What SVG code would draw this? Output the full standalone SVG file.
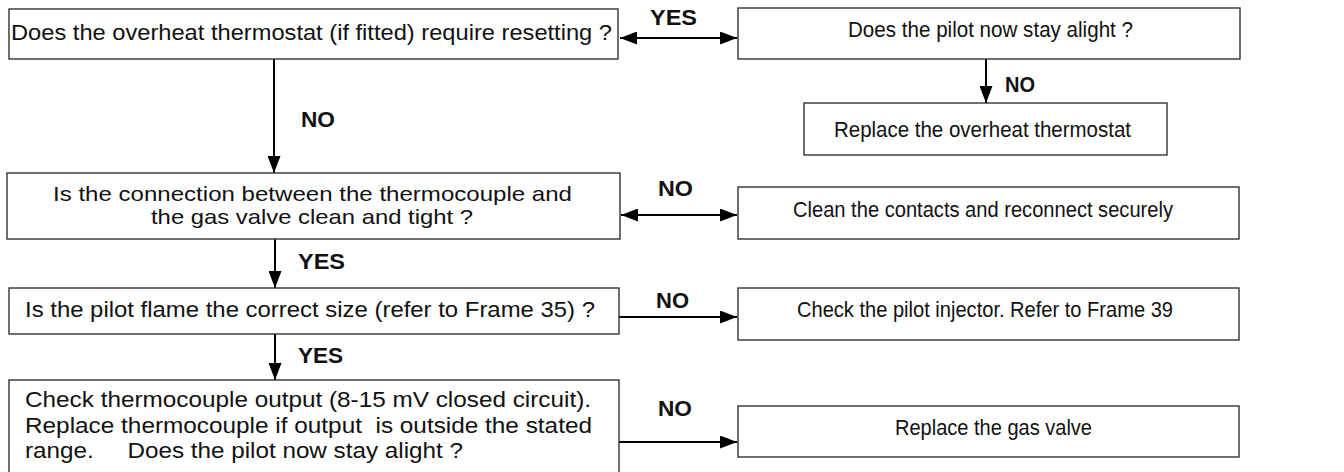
<svg xmlns="http://www.w3.org/2000/svg" width="1344" height="472" viewBox="0 0 1344 472">
<defs>
<style>
.box{fill:#fff;stroke:#333;stroke-width:1.4}
.t{font-family:"Liberation Sans",Arial,sans-serif;font-size:22px;fill:#111;white-space:pre}
.s{font-size:21px}
.l{font-family:"Liberation Sans",Arial,sans-serif;font-size:22px;font-weight:bold;fill:#111}
.c{stroke:#000;stroke-width:2;fill:none}
</style>
<marker id="ah" markerUnits="userSpaceOnUse" markerWidth="17" markerHeight="13" refX="17" refY="6.5" orient="auto-start-reverse">
<path d="M0,0 L17,6.5 L0,13 z" fill="#000"/>
</marker>
</defs>
<rect width="1344" height="472" fill="#fff"/>
<g id="connectors">
<line class="c" x1="620" y1="38" x2="737" y2="38" marker-start="url(#ah)" marker-end="url(#ah)"/>
<text class="l" x="650" y="25" textLength="47" lengthAdjust="spacingAndGlyphs">YES</text>
<line class="c" x1="986" y1="59" x2="986" y2="103" marker-end="url(#ah)"/>
<text class="l" x="1005" y="92" textLength="30" lengthAdjust="spacingAndGlyphs">NO</text>
<line class="c" x1="274" y1="59" x2="274" y2="173" marker-end="url(#ah)"/>
<text class="l" x="301" y="127" textLength="34" lengthAdjust="spacingAndGlyphs">NO</text>
<line class="c" x1="621" y1="215" x2="737" y2="215" marker-start="url(#ah)" marker-end="url(#ah)"/>
<text class="l" x="658" y="196" textLength="35" lengthAdjust="spacingAndGlyphs">NO</text>
<line class="c" x1="275" y1="239" x2="275" y2="288" marker-end="url(#ah)"/>
<text class="l" x="298" y="269" textLength="47" lengthAdjust="spacingAndGlyphs">YES</text>
<line class="c" x1="619" y1="317" x2="737" y2="317" marker-end="url(#ah)"/>
<text class="l" x="656" y="308" textLength="33" lengthAdjust="spacingAndGlyphs">NO</text>
<line class="c" x1="275" y1="334" x2="275" y2="380" marker-end="url(#ah)"/>
<text class="l" x="298" y="363" textLength="45" lengthAdjust="spacingAndGlyphs">YES</text>
<line class="c" x1="619" y1="442" x2="737" y2="442" marker-end="url(#ah)"/>
<text class="l" x="658" y="416" textLength="34" lengthAdjust="spacingAndGlyphs">NO</text>
</g>
<g id="n1">
<rect class="box" x="9" y="9" width="609" height="50"/>
<text class="t" x="11" y="40" textLength="601" lengthAdjust="spacingAndGlyphs">Does the overheat thermostat (if fitted) require resetting ?</text>
</g>
<g id="n2">
<rect class="box" x="738" y="8" width="502" height="51"/>
<text class="t" x="848" y="37" textLength="285" lengthAdjust="spacingAndGlyphs">Does the pilot now stay alight ?</text>
</g>
<g id="n3">
<rect class="box" x="804" y="103" width="363" height="52"/>
<text class="t" x="834" y="137" textLength="297" lengthAdjust="spacingAndGlyphs">Replace the overheat thermostat</text>
</g>
<g id="n4">
<rect class="box" x="7" y="173" width="613" height="66"/>
<text class="t s" x="53" y="201" textLength="519" lengthAdjust="spacingAndGlyphs">Is the connection between the thermocouple and</text>
<text class="t s" x="151" y="224" textLength="322" lengthAdjust="spacingAndGlyphs">the gas valve clean and tight ?</text>
</g>
<g id="n5">
<rect class="box" x="738" y="187" width="501" height="52"/>
<text class="t" x="793" y="217" textLength="380" lengthAdjust="spacingAndGlyphs">Clean the contacts and reconnect securely</text>
</g>
<g id="n6">
<rect class="box" x="9" y="288" width="610" height="46"/>
<text class="t" x="25" y="317" textLength="570" lengthAdjust="spacingAndGlyphs">Is the pilot flame the correct size (refer to Frame 35) ?</text>
</g>
<g id="n7">
<rect class="box" x="738" y="288" width="501" height="52"/>
<text class="t" x="797" y="317" textLength="376" lengthAdjust="spacingAndGlyphs">Check the pilot injector. Refer to Frame 39</text>
</g>
<g id="n8">
<rect class="box" x="9" y="380" width="610" height="100"/>
<text class="t" x="25" y="407" textLength="566" lengthAdjust="spacingAndGlyphs">Check thermocouple output (8-15 mV closed circuit).</text>
<text class="t" x="25" y="433" textLength="567" lengthAdjust="spacingAndGlyphs">Replace thermocouple if output  is outside the stated</text>
<text class="t" x="25" y="458" textLength="438" lengthAdjust="spacingAndGlyphs">range.     Does the pilot now stay alight ?</text>
</g>
<g id="n9">
<rect class="box" x="738" y="406" width="501" height="51"/>
<text class="t" x="895" y="435" textLength="197" lengthAdjust="spacingAndGlyphs">Replace the gas valve</text>
</g>
</svg>
